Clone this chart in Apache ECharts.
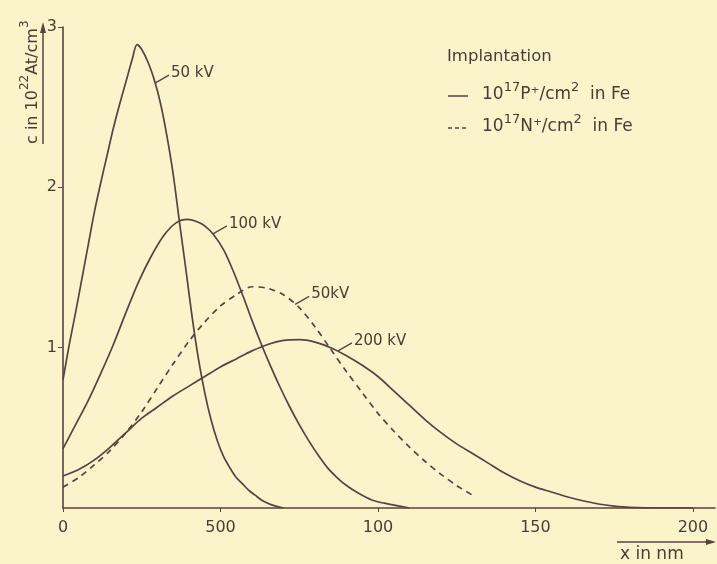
<!DOCTYPE html>
<html>
<head>
<meta charset="utf-8">
<script src="https://cdn.jsdelivr.net/npm/echarts@6/dist/echarts.min.js"></script>
<style>
html, body { margin: 0; padding: 0; background: #fbf4cb; }
#chart { width: 717px; height: 564px; }
</style>
</head>
<body>
<div id="chart"></div>
<script>
// depth x (nm) and concentration c (10^22 At/cm^3)
const p50X = [0, 2, 4, 6, 8, 10, 12, 14, 16, 18, 20, 22, 23.5, 25, 27, 29, 31, 33, 35, 37, 39, 41, 43, 45, 47, 49, 51, 53, 55, 57, 59, 61, 63, 65, 67, 70]
const p50Y = [0.8, 1.02, 1.22, 1.43, 1.64, 1.85, 2.03, 2.2, 2.37, 2.52, 2.66, 2.8, 2.89, 2.86, 2.78, 2.67, 2.52, 2.32, 2.08, 1.78, 1.49, 1.19, 0.93, 0.72, 0.55, 0.42, 0.32, 0.25, 0.19, 0.15, 0.11, 0.08, 0.05, 0.03, 0.015, 0]

const p100X = [0, 4, 8, 12, 16, 20, 24, 28, 32, 36, 39.5, 42, 45, 48, 51, 54, 57, 60, 63, 66, 69, 72, 75, 78, 81, 84, 87, 90, 94, 98, 102, 106, 110]
const p100Y = [0.37, 0.52, 0.67, 0.84, 1.02, 1.22, 1.41, 1.57, 1.7, 1.78, 1.8, 1.79, 1.76, 1.7, 1.61, 1.48, 1.33, 1.17, 1.02, 0.88, 0.75, 0.63, 0.52, 0.42, 0.33, 0.25, 0.19, 0.14, 0.09, 0.05, 0.03, 0.015, 0]

const n50X = [0, 5, 10, 15, 20, 25, 30, 35, 40, 45, 50, 55, 60, 65, 70, 75, 80, 85, 90, 95, 100, 105, 110, 115, 120, 125, 130]
const n50Y = [0.13, 0.19, 0.27, 0.36, 0.47, 0.6, 0.75, 0.9, 1.04, 1.16, 1.26, 1.33, 1.38, 1.37, 1.33, 1.25, 1.13, 0.99, 0.85, 0.72, 0.59, 0.48, 0.38, 0.29, 0.21, 0.14, 0.08]

const p200X = [0, 5, 10, 15, 20, 25, 30, 35, 40, 45, 50, 55, 60, 65, 70, 75, 80, 85, 90, 95, 100, 105, 110, 115, 120, 125, 130, 135, 140, 145, 150, 155, 160, 165, 170, 175, 180, 190, 200]
const p200Y = [0.2, 0.24, 0.3, 0.38, 0.47, 0.56, 0.63, 0.7, 0.76, 0.82, 0.88, 0.93, 0.98, 1.02, 1.045, 1.05, 1.035, 1.0, 0.95, 0.89, 0.82, 0.73, 0.64, 0.55, 0.47, 0.4, 0.34, 0.28, 0.22, 0.17, 0.13, 0.1, 0.07, 0.045, 0.025, 0.012, 0.004, 0, 0]

// tick values and the labels printed under them
const xTicks = [0, 50, 100, 150, 200]
const xTickLabels = ['0', '500', '100', '150', '200']
const yTicks = [1, 2, 3]

// curve labels: anchor point on the curve (data coords)
const curveLabels = [
  { text: '50 kV', at: [29.2, 2.65] },
  { text: '100 kV', at: [47.6, 1.71] },
  { text: '50kV', at: [73.7, 1.27] },
  { text: '200 kV', at: [87.3, 0.98] },
]

const ink = '#584242'
const textInk = '#4a3c34'
const font = '"DejaVu Sans", Roboto, sans-serif'

const zip = (xs, ys) => xs.map((x, i) => [x, ys[i]])

const lineSeries = (name, xs, ys, dashed) => ({
  name,
  type: 'line',
  data: zip(xs, ys),
  showSymbol: false,
  smooth: 0.3,
  silent: true,
  lineStyle: { color: ink, width: 1.7, type: dashed ? [6, 5] : 'solid' },
})

const chart = echarts.init(document.getElementById('chart'))

chart.setOption({
  backgroundColor: '#fbf4cb',
  animation: false,
  grid: { left: 63, right: 2, top: 27, bottom: 56 },
  xAxis: {
    type: 'value',
    min: 0,
    max: 207,
    interval: 50,
    splitLine: { show: false },
    axisLine: { lineStyle: { color: ink, width: 1.6 } },
    axisTick: { length: 4, customValues: xTicks, lineStyle: { color: ink } },
    axisLabel: {
      customValues: xTicks,
      formatter: v => xTickLabels[xTicks.indexOf(v)],
      color: textInk, fontFamily: font, fontSize: 16, margin: 12,
    },
  },
  yAxis: {
    type: 'value',
    min: 0,
    max: 3,
    interval: 1,
    splitLine: { show: false },
    axisLine: { show: true, lineStyle: { color: ink, width: 1.6 } },
    axisTick: { show: true, length: 5, customValues: yTicks, lineStyle: { color: ink } },
    axisLabel: {
      customValues: yTicks,
      color: textInk, fontFamily: font, fontSize: 16, margin: 6,
    },
  },
  series: [
    lineSeries('P 50 kV', p50X, p50Y, false),
    lineSeries('P 100 kV', p100X, p100Y, false),
    lineSeries('N 50 kV', n50X, n50Y, true),
    lineSeries('P 200 kV', p200X, p200Y, false),
  ],
})

// rich styles for text with superscripts
const supRich = (size) => ({
  base: { fontSize: size, fontFamily: font, fill: textInk, lineHeight: 22, verticalAlign: 'bottom' },
  sup: { fontSize: size - 4, fontFamily: font, fill: textInk, lineHeight: 22, verticalAlign: 'top' },
})

const graphics = []

// leader strokes and curve labels
curveLabels.forEach(l => {
  const [px, py] = chart.convertToPixel({ gridIndex: 0 }, l.at)
  graphics.push({
    type: 'line',
    shape: { x1: px, y1: py, x2: px + 14, y2: py - 8 },
    style: { stroke: ink, lineWidth: 1.3 },
  })
  graphics.push({
    type: 'text',
    x: px + 16,
    y: py - 10,
    style: { text: l.text, fill: textInk, font: '15px ' + font, verticalAlign: 'middle' },
  })
})

// legend block
graphics.push(
  { type: 'text', x: 447, y: 57, style: { text: 'Implantation', fill: textInk, font: '16.5px ' + font, verticalAlign: 'middle' } },
  { type: 'line', shape: { x1: 448, y1: 96, x2: 468, y2: 96 }, style: { stroke: ink, lineWidth: 1.5 } },
  { type: 'line', shape: { x1: 448, y1: 128, x2: 468, y2: 128 }, style: { stroke: ink, lineWidth: 1.5, lineDash: [4, 3] } },
  {
    type: 'text', x: 482, y: 92,
    style: { text: '{base|10}{sup|17}{base|P⁺/cm}{sup|2}{base|  in Fe}', rich: supRich(17), fill: textInk, verticalAlign: 'middle' },
  },
  {
    type: 'text', x: 482, y: 124,
    style: { text: '{base|10}{sup|17}{base|N⁺/cm}{sup|2}{base|  in Fe}', rich: supRich(17), fill: textInk, verticalAlign: 'middle' },
  },
)

// y axis name, rotated, with arrow line
graphics.push(
  {
    type: 'text', x: 30, y: 144, rotation: Math.PI / 2,
    style: { text: '{base|c in 10}{sup|22}{base|At/cm}{sup|3}', rich: supRich(16), fill: textInk, align: 'left', verticalAlign: 'middle' },
  },
  { type: 'line', shape: { x1: 43, y1: 144, x2: 43, y2: 30 }, style: { stroke: ink, lineWidth: 1.5 } },
  { type: 'polygon', shape: { points: [[43, 22], [40, 33], [46, 33]] }, style: { fill: ink } },
)

// x axis name with arrow
graphics.push(
  { type: 'line', shape: { x1: 617, y1: 542, x2: 708, y2: 542 }, style: { stroke: ink, lineWidth: 1.5 } },
  { type: 'polygon', shape: { points: [[716, 542], [706, 539], [706, 545]] }, style: { fill: ink } },
  { type: 'text', x: 620, y: 555, style: { text: 'x in nm', fill: textInk, font: '17px ' + font, verticalAlign: 'middle' } },
)

chart.setOption({ graphic: graphics })
</script>
</body>
</html>
